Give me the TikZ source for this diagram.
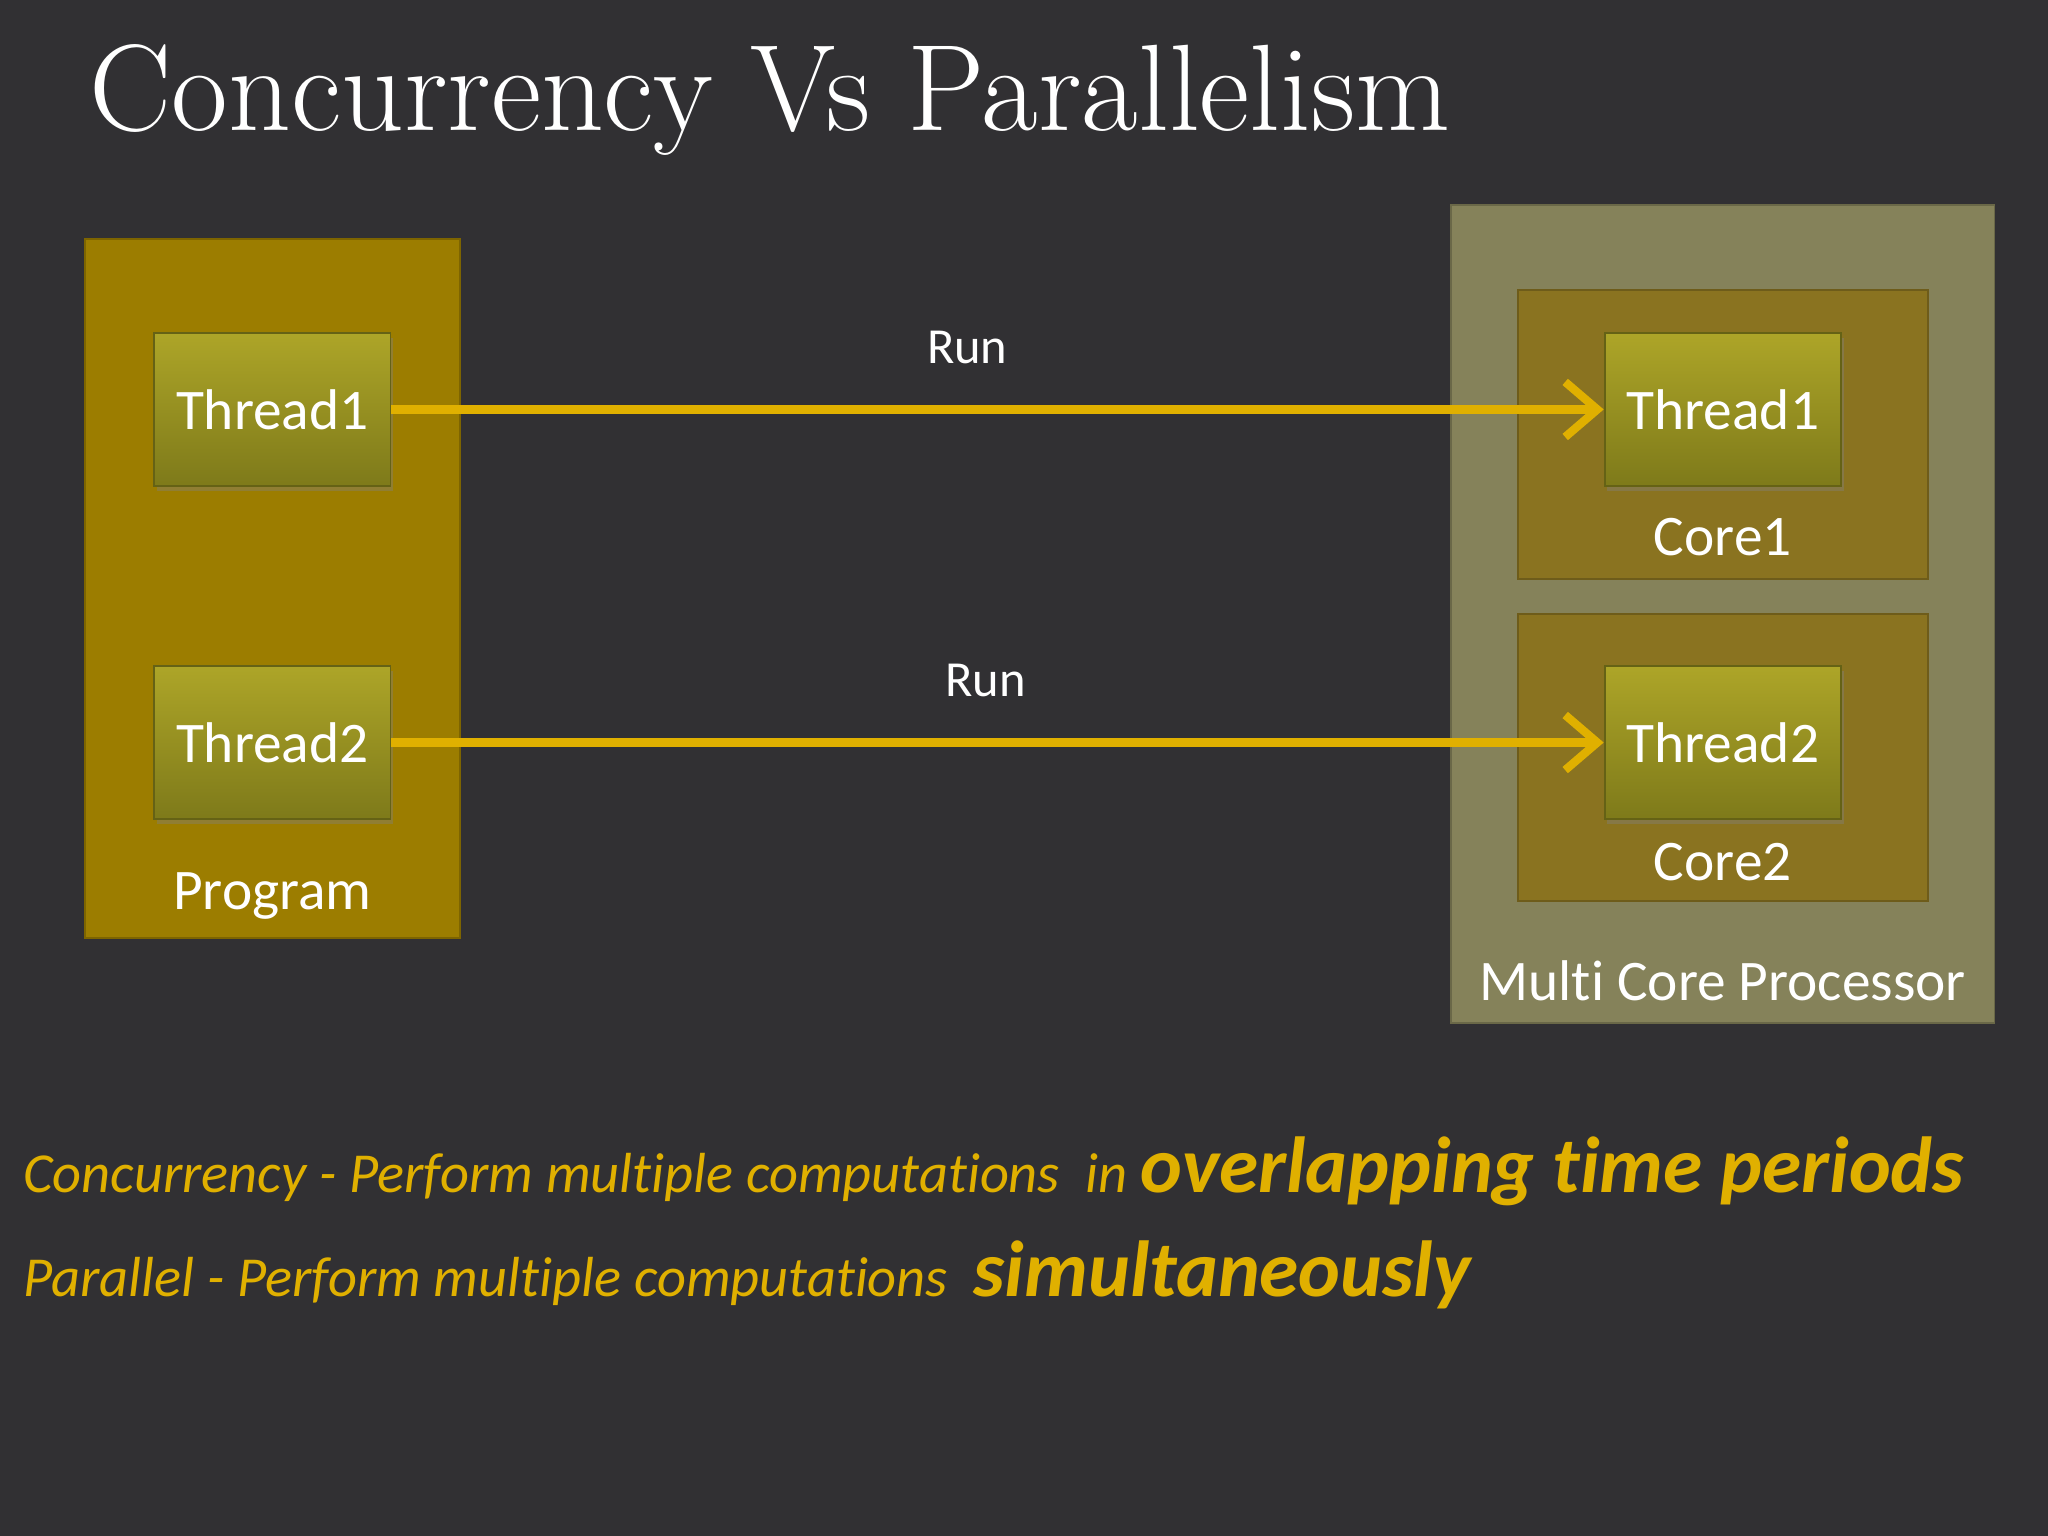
\documentclass[tikz,border=0pt]{standalone}
\usepackage{fontspec}
\setmainfont[Ligatures=NoCommon]{Carlito}
\newfontfamily\titlefont{Latin Modern Roman}
\usetikzlibrary{arrows.meta,shadows}
\definecolor{bg}{HTML}{313033}
\definecolor{prog}{HTML}{9C7D00}
\definecolor{proc}{HTML}{85825A}
\definecolor{core}{HTML}{8A7320}
\definecolor{thtop}{HTML}{ADA528}
\definecolor{thbot}{HTML}{7E7A1A}
\definecolor{arr}{HTML}{E0B000}
\tikzset{
  thread/.style={minimum width=1.81cm,minimum height=1.17cm,top color=thtop,bottom color=thbot,draw=thbot!80!black,text=white,font=\fontsize{12.5}{14}\selectfont,inner sep=0pt,drop shadow={shadow xshift=0.02cm,shadow yshift=-0.04cm,opacity=0.4}},
  lbl/.style={text=white,font=\fontsize{12.5}{14}\selectfont},
  runarrow/.style={draw=arr,line width=2pt,-{Straight Barb[length=7pt,width=12pt,line width=1.8pt]}},
  bottomtxt/.style={text=arr,anchor=base west,inner sep=0pt}
}
\begin{document}
\begin{tikzpicture}[x=1cm,y=1cm]
\fill[bg] (0,0) rectangle (15.68,-11.76);
\useasboundingbox (0,0) rectangle (15.68,-11.76);
\node[anchor=base west,inner sep=0pt,text=white,font=\titlefont\fontsize{26.8}{30}\selectfont] (title) at (0.68,-1.0) {Concurrency Vs Parallelism};
% program
\node[fill=prog,draw=prog!80!black,minimum width=2.87cm,minimum height=5.35cm,inner sep=0pt] (prog) at (2.085,-4.505) {};
\node[thread] (lt1) at (2.085,-3.135) {Thread1};
\node[thread] (lt2) at (2.085,-5.685) {Thread2};
\node[lbl] (plbl) at (2.085,-6.86) {Program};
% processor
\node[fill=proc,draw=proc!80!black,minimum width=4.16cm,minimum height=6.26cm,inner sep=0pt] (proc) at (13.19,-4.70) {};
\node[fill=core,draw=core!80!black,minimum width=3.14cm,minimum height=2.21cm,inner sep=0pt] (c1) at (13.19,-3.325) {};
\node[fill=core,draw=core!80!black,minimum width=3.14cm,minimum height=2.20cm,inner sep=0pt] (c2) at (13.19,-5.80) {};
\node[thread] (rt1) at (13.19,-3.135) {Thread1};
\node[thread] (rt2) at (13.19,-5.685) {Thread2};
\node[lbl] (c1l) at (13.19,-4.11) {Core1};
\node[lbl] (c2l) at (13.19,-6.60) {Core2};
\node[lbl] (pl) at (13.19,-7.51) {Multi Core Processor};
% arrows
\draw[runarrow] (lt1.east) -- node[above=0.2cm,text=white,font=\fontsize{11}{13}\selectfont,pos=0.475]{Run} (rt1.west);
\draw[runarrow] (lt2.east) -- node[above=0.2cm,text=white,font=\fontsize{11}{13}\selectfont,pos=0.49]{Run} (rt2.west);
% bottom
\node[bottomtxt] (l1) at (0.17,-9.13) {\fontsize{12.3}{16}\selectfont\itshape Concurrency - Perform multiple computations\ \ in \fontsize{17.3}{20}\selectfont\bfseries overlapping time periods};
\node[bottomtxt] (l2) at (0.17,-9.93) {\fontsize{12.3}{16}\selectfont\itshape Parallel - Perform multiple computations\ \ \fontsize{17.3}{20}\selectfont\bfseries simultaneously};
\end{tikzpicture}
\end{document}
